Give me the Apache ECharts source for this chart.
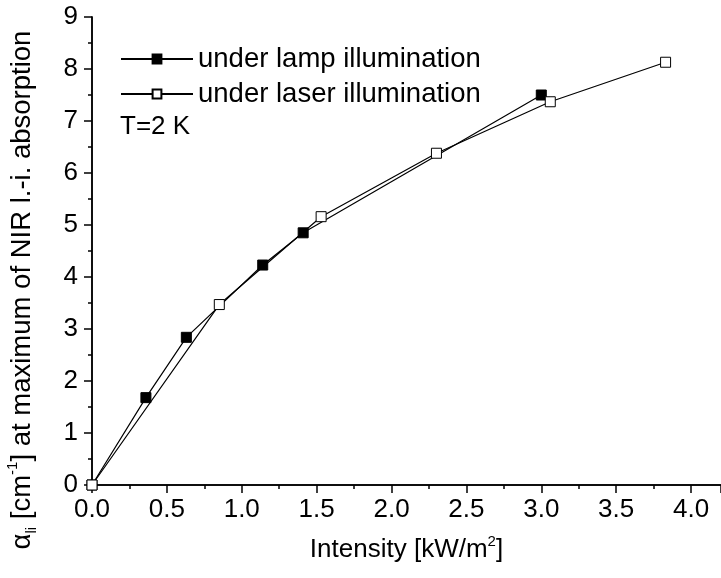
<!DOCTYPE html>
<html>
<head>
<meta charset="utf-8">
<script src="https://cdn.jsdelivr.net/npm/echarts@6/dist/echarts.min.js"></script>
<style>
  html, body { margin: 0; padding: 0; background: #fff; }
  #chart { width: 721px; height: 578px; }
</style>
</head>
<body>
<div id="chart"></div>
<script>
// Intensity [kW/m^2] and absorption values for the two illumination conditions
const lampIntensity = [0, 0.36, 0.63, 1.14, 1.41, 3.00];
const lampAlpha     = [0, 1.68, 2.84, 4.23, 4.85, 7.50];
const laserIntensity = [0, 0.85, 1.53, 2.30, 3.06, 3.83];
const laserAlpha     = [0, 3.47, 5.16, 6.38, 7.37, 8.13];
const seriesNames = ['under lamp illumination', 'under laser illumination'];
const noteText = 'T=2 K';

const FONT = '"Liberation Sans", Arial, Helvetica, sans-serif';
const FS = 26;
const FS_TEXT = 27.5;
const pairs = (xs, ys) => xs.map((x, i) => [x, ys[i]]);

const chart = echarts.init(document.getElementById('chart'), null, { renderer: 'canvas' });

const lineAxis = { show: true, lineStyle: { color: '#000', width: 1.5 } };
const tickOut = { show: true, inside: false, length: 8, lineStyle: { color: '#000', width: 1.5 } };
const tickIn  = { show: true, inside: true,  length: 8, lineStyle: { color: '#000', width: 1.5 } };
const minorOut = { show: true, splitNumber: 2, length: 4, lineStyle: { color: '#000', width: 1.5 } };
const labelStyle = { color: '#000', fontFamily: FONT, fontSize: FS };

chart.setOption({
  animation: false,
  backgroundColor: '#fff',
  grid: { left: 92, top: 17, width: 630, height: 468 },
  legend: {
    orient: 'vertical',
    left: 120,
    top: 45,
    padding: 0,
    itemWidth: 72,
    itemHeight: 11,
    itemGap: 7,
    textStyle: { color: '#000', fontFamily: FONT, fontSize: FS_TEXT },
    data: seriesNames
  },
  xAxis: [
    {
      type: 'value', position: 'bottom', min: 0, max: 4.2, interval: 0.5,
      axisLine: lineAxis, axisTick: tickOut, minorTick: minorOut,
      splitLine: { show: false },
      axisLabel: Object.assign({ margin: 12, showMaxLabel: false,
        formatter: v => (Math.abs(v * 2 - Math.round(v * 2)) < 1e-6 ? v.toFixed(1) : '') }, labelStyle),
      name: 'Intensity [kW/m{sup|2}]',
      nameLocation: 'middle',
      nameGap: 49,
      nameTextStyle: {
        color: '#000', fontFamily: FONT, fontSize: FS,
        rich: { sup: { fontFamily: FONT, fontSize: 15, color: '#000', verticalAlign: 'top', padding: [0, 0, 16, 0] } }
      }
    },
    {
      type: 'value', position: 'top', min: 0, max: 4.2, interval: 0.5,
      axisLine: lineAxis, axisTick: tickIn,
      minorTick: Object.assign({}, minorOut, { show: true }),
      splitLine: { show: false }, axisLabel: { show: false }
    }
  ],
  yAxis: [
    {
      type: 'value', position: 'left', min: 0, max: 9, interval: 1,
      axisLine: lineAxis, axisTick: tickOut, minorTick: minorOut,
      splitLine: { show: false },
      axisLabel: Object.assign({ margin: 14 }, labelStyle)
    },
    {
      type: 'value', position: 'right', min: 0, max: 9, interval: 1,
      axisLine: lineAxis, axisTick: tickIn, minorTick: minorOut,
      splitLine: { show: false }, axisLabel: { show: false }
    }
  ],
  graphic: [
    {
      type: 'text', left: 120, top: 114,
      style: { text: noteText, fill: '#000', font: FS + 'px ' + FONT }
    },
    {
      type: 'text', x: 22, y: 290, rotation: Math.PI / 2,
      style: {
        text: '{n|α}{sub|li}{n| [cm}{sup|-1}{n|] at maximum of NIR l.-i. absorption}',
        align: 'center', verticalAlign: 'middle', fill: '#000',
        rich: {
          n: { fontFamily: FONT, fontSize: FS_TEXT, fill: '#000', lineHeight: 34 },
          sub: { fontFamily: FONT, fontSize: 15, fill: '#000', verticalAlign: 'bottom', lineHeight: 34 },
          sup: { fontFamily: FONT, fontSize: 15, fill: '#000', verticalAlign: 'top', lineHeight: 34 }
        }
      }
    }
  ],
  series: [
    {
      name: seriesNames[0], type: 'line', xAxisIndex: 0, yAxisIndex: 0,
      data: pairs(lampIntensity, lampAlpha),
      symbol: 'rect', symbolSize: 10,
      lineStyle: { color: '#000', width: 1.2 },
      itemStyle: { color: '#000', borderColor: '#000', borderWidth: 1 },
      z: 2
    },
    {
      name: seriesNames[1], type: 'line', xAxisIndex: 0, yAxisIndex: 0,
      data: pairs(laserIntensity, laserAlpha),
      symbol: 'rect', symbolSize: 10,
      lineStyle: { color: '#000', width: 1.2 },
      itemStyle: { color: '#fff', borderColor: '#000', borderWidth: 1 },
      z: 3
    }
  ]
});
</script>
</body>
</html>
